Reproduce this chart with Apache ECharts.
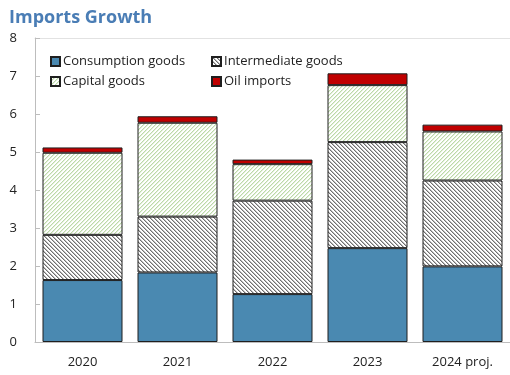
<!DOCTYPE html>
<html>
<head>
<meta charset="utf-8">
<script src="https://cdn.jsdelivr.net/npm/echarts@6/dist/echarts.min.js"></script>
<style>
  html, body { margin: 0; padding: 0; background: #fff; }
  #chart { width: 510px; height: 375px; }
</style>
</head>
<body>
<div id="chart"></div>
<script>
// Imports growth by component (stacked)
const years = ['2020', '2021', '2022', '2023', '2024 proj.'];
const consumption = [1.63, 1.83, 1.26, 2.47, 1.99];
const intermediate = [1.19, 1.47, 2.46, 2.79, 2.26];
const capital = [2.16, 2.47, 0.96, 1.50, 1.29];
const oil = [0.14, 0.17, 0.12, 0.31, 0.18];
const yTicks = [0, 1, 2, 3, 4, 5, 6, 7, 8];

// Small repeating hatch tiles: a main diagonal plus a softer neighbour pixel
function hatch(main, soft, dir) {
  const s = 4;
  const c = document.createElement('canvas');
  c.width = s; c.height = s;
  const g = c.getContext('2d');
  g.fillStyle = '#fff';
  g.fillRect(0, 0, s, s);
  for (let i = 0; i < s; i++) {
    const x = dir === 'down' ? i : (s - 1 - i);
    g.fillStyle = main;
    g.fillRect(x, i, 1, 1);
    g.fillStyle = soft;
    g.fillRect((x + 1) % s, i, 1, 1);
  }
  return { image: c, repeat: 'repeat' };
}

const interFill = hatch('#6f6f6f', '#bdbdbd', 'down');
const capFill = hatch('#bcd9a8', '#e3efda', 'up');

const font = '"Open Sans", "Noto Sans", sans-serif';
const border = { borderColor: '#1f1f1f', borderWidth: 1 };

const chart = echarts.init(document.getElementById('chart'), null, { renderer: 'canvas' });
chart.setOption({
  animation: false,
  title: {
    text: 'Imports Growth',
    left: 4, top: 4,
    textStyle: { fontFamily: font, fontWeight: 'bold', fontSize: 18, color: '#4a7db5' }
  },
  legend: [
    {
      data: ['Consumption goods', 'Capital goods'],
      orient: 'vertical', left: 45, top: 50, itemGap: 7,
      itemWidth: 9, itemHeight: 9, icon: 'rect',
      textStyle: { fontFamily: font, fontSize: 13, color: '#222', padding: [0, 0, 0, -2] }
    },
    {
      data: ['Intermediate goods', 'Oil imports'],
      orient: 'vertical', left: 206, top: 50, itemGap: 7,
      itemWidth: 9, itemHeight: 9, icon: 'rect',
      textStyle: { fontFamily: font, fontSize: 13, color: '#222', padding: [0, 0, 0, -2] }
    }
  ],
  grid: { left: 35, top: 38, width: 479, height: 304 },
  xAxis: [
    {
      type: 'category', data: years,
      axisLine: { lineStyle: { color: '#bdbdbd', width: 1 } },
      axisTick: { inside: true, length: 5, lineStyle: { color: '#bdbdbd' } },
      axisLabel: { fontFamily: font, fontSize: 13, color: '#222', margin: 14 }
    },
    {
      type: 'category', data: years, position: 'top',
      axisLine: { lineStyle: { color: '#e2e2e2', width: 1 } },
      axisTick: { show: false }, axisLabel: { show: false }
    }
  ],
  yAxis: {
    type: 'value', min: 0, max: 8, interval: 1,
    axisLine: { show: true, lineStyle: { color: '#bdbdbd', width: 1 } },
    axisTick: { show: true, inside: true, length: 5, lineStyle: { color: '#bdbdbd' } },
    splitLine: { show: false },
    axisLabel: {
      fontFamily: font, fontSize: 13, color: '#222', margin: 18,
      formatter: v => (yTicks.includes(v) ? String(v) : '')
    }
  },
  series: [
    { name: 'Consumption goods', type: 'bar', stack: 'm', data: consumption, barWidth: 80,
      itemStyle: Object.assign({ color: '#4a89b1' }, border) },
    { name: 'Intermediate goods', type: 'bar', stack: 'm', data: intermediate, barWidth: 80,
      itemStyle: Object.assign({ color: interFill }, border) },
    { name: 'Capital goods', type: 'bar', stack: 'm', data: capital, barWidth: 80,
      itemStyle: Object.assign({ color: capFill }, border) },
    { name: 'Oil imports', type: 'bar', stack: 'm', data: oil, barWidth: 80,
      itemStyle: Object.assign({ color: '#c00000' }, border) }
  ]
});
</script>
</body>
</html>
